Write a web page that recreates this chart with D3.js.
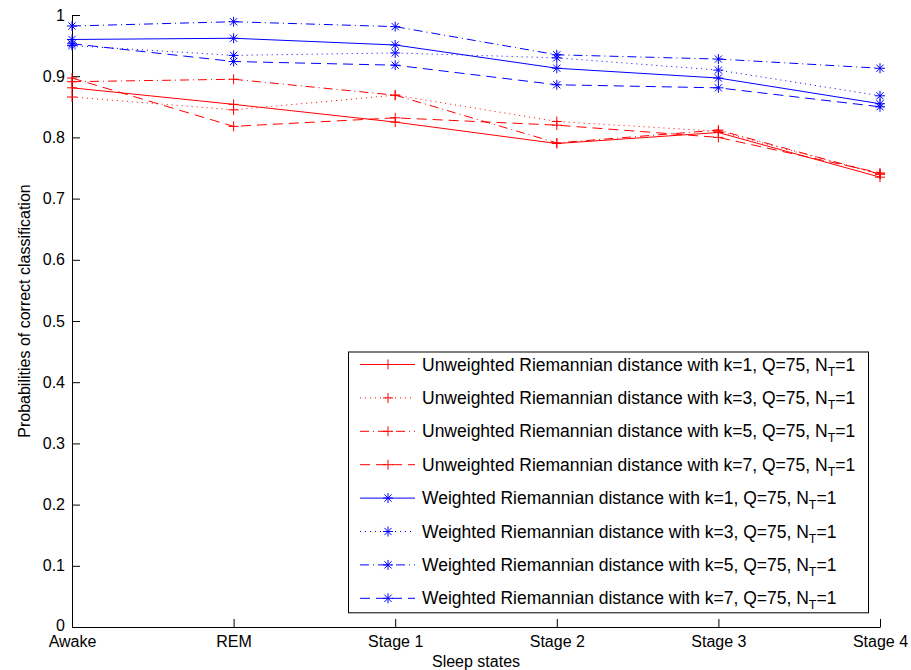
<!DOCTYPE html>
<html>
<head>
<meta charset="utf-8">
<script src="https://cdn.jsdelivr.net/npm/d3@7"></script>
<style>
body { margin: 0; background: #fff; }
text { font-family: "Liberation Sans", Arial, Helvetica, sans-serif; }
</style>
</head>
<body>
<div id="chart"></div>
<script>
// sleep states on the x axis
var stages = ["Awake", "REM", "Stage 1", "Stage 2", "Stage 3", "Stage 4"];
var yTicks = [0, 0.1, 0.2, 0.3, 0.4, 0.5, 0.6, 0.7, 0.8, 0.9, 1];

// probabilities
var unw1 = [0.881, 0.854, 0.825, 0.790, 0.808, 0.735];
var unw3 = [0.866, 0.845, 0.869, 0.826, 0.810, 0.740];
var unw5 = [0.891, 0.895, 0.869, 0.791, 0.812, 0.740];
var unw7 = [0.897, 0.818, 0.832, 0.820, 0.800, 0.742];
var w1 = [0.960, 0.962, 0.951, 0.913, 0.897, 0.855];
var w3 = [0.950, 0.934, 0.938, 0.930, 0.910, 0.868];
var w5 = [0.982, 0.989, 0.981, 0.935, 0.928, 0.913];
var w7 = [0.953, 0.924, 0.918, 0.886, 0.881, 0.850];

var kValues = [1, 3, 5, 7, 1, 3, 5, 7];
var prefixes = ["Unweighted", "Unweighted", "Unweighted", "Unweighted",
                "Weighted", "Weighted", "Weighted", "Weighted"];

var dashes = { solid: null, dot: "1,4", dashdot: "9,4,1,4", dash: "10,6" };

var series = [
  { v: unw1, c: "#ff0000", d: dashes.solid, m: "plus" },
  { v: unw3, c: "#ff0000", d: dashes.dot, m: "plus" },
  { v: unw5, c: "#ff0000", d: dashes.dashdot, m: "plus" },
  { v: unw7, c: "#ff0000", d: dashes.dash, m: "plus" },
  { v: w1, c: "#0000ff", d: dashes.solid, m: "star" },
  { v: w3, c: "#0000ff", d: dashes.dot, m: "star" },
  { v: w5, c: "#0000ff", d: dashes.dashdot, m: "star" },
  { v: w7, c: "#0000ff", d: dashes.dash, m: "star" }
];

var margin = { top: 15, right: 31, bottom: 43, left: 72 },
    W = 911, H = 670,
    width = W - margin.left - margin.right,
    height = H - margin.top - margin.bottom;

var svg = d3.select("#chart").append("svg")
    .attr("width", W)
    .attr("height", H);

var g = svg.append("g")
    .attr("transform", "translate(" + margin.left + "," + margin.top + ")");

var x = d3.scalePoint().domain(stages).range([0, width]);
var y = d3.scaleLinear().domain([0, 1]).range([height, 0]);

var markerPath = {
  plus: "M-5,0H5M0,-5V5",
  star: "M-5,0H5M0,-5V5M-3.6,-3.6L3.6,3.6M-3.6,3.6L3.6,-3.6"
};

// axes (ticks point inwards like matlab)
var xAxis = g.append("g")
    .attr("transform", "translate(0," + height + ")")
    .call(d3.axisBottom(x).tickSizeInner(-8).tickSizeOuter(0).tickPadding(9));
var yAxis = g.append("g")
    .call(d3.axisLeft(y).tickValues(yTicks).tickFormat(d3.format("")).tickSizeInner(-8).tickSizeOuter(0).tickPadding(7));

[xAxis, yAxis].forEach(function (a) {
  a.select(".domain").attr("stroke", "#000");
  a.selectAll(".tick line").attr("stroke", "#000");
  a.selectAll("text").style("font-size", "16px").attr("fill", "#000");
});

// the "0" label sits just above "Awake"
yAxis.selectAll(".tick text").filter(function (d) { return d === 0; }).attr("dy", "0.22em");

var line = d3.line()
    .x(function (d, i) { return x(stages[i]); })
    .y(function (d) { return y(d); });

series.forEach(function (s) {
  g.append("path")
    .datum(s.v)
    .attr("d", line)
    .attr("fill", "none")
    .attr("stroke", s.c)
    .attr("stroke-width", 1)
    .attr("stroke-dasharray", s.d);
  g.selectAll(null)
    .data(s.v)
    .enter().append("path")
    .attr("transform", function (d, i) { return "translate(" + x(stages[i]) + "," + y(d) + ")"; })
    .attr("d", markerPath[s.m])
    .attr("fill", "none")
    .attr("stroke", s.c)
    .attr("stroke-width", 1);
});

// axis titles
svg.append("text")
  .attr("transform", "translate(30,311) rotate(-90)")
  .attr("text-anchor", "middle")
  .style("font-size", "16px")
  .text("Probabilities of correct classification");

svg.append("text")
  .attr("x", margin.left + width / 2)
  .attr("y", 667)
  .attr("text-anchor", "middle")
  .style("font-size", "16px")
  .text("Sleep states");

// legend
var rowH = 33.4, firstRow = 364.5;
var leg = svg.append("g");
leg.append("rect")
  .attr("x", 348.5).attr("y", firstRow - 12.5)
  .attr("width", 520).attr("height", rowH * 7 + 27)
  .attr("fill", "#fff").attr("stroke", "#000");

series.forEach(function (s, i) {
  var cy = firstRow + i * rowH;
  leg.append("line")
    .attr("x1", 360).attr("x2", 415).attr("y1", cy).attr("y2", cy)
    .attr("stroke", s.c).attr("stroke-dasharray", s.d);
  leg.append("path")
    .attr("transform", "translate(388," + cy + ")")
    .attr("d", markerPath[s.m])
    .attr("fill", "none").attr("stroke", s.c);
  var t = leg.append("text")
    .attr("x", 422).attr("y", cy + 6)
    .style("font-size", "17.5px");
  t.append("tspan").text(prefixes[i] + " Riemannian distance with k=" + kValues[i] + ", Q=75, N");
  t.append("tspan").attr("dy", 5).style("font-size", "12.5px").text("T");
  t.append("tspan").attr("dy", -5).text("=1");
});
</script>
</body>
</html>
